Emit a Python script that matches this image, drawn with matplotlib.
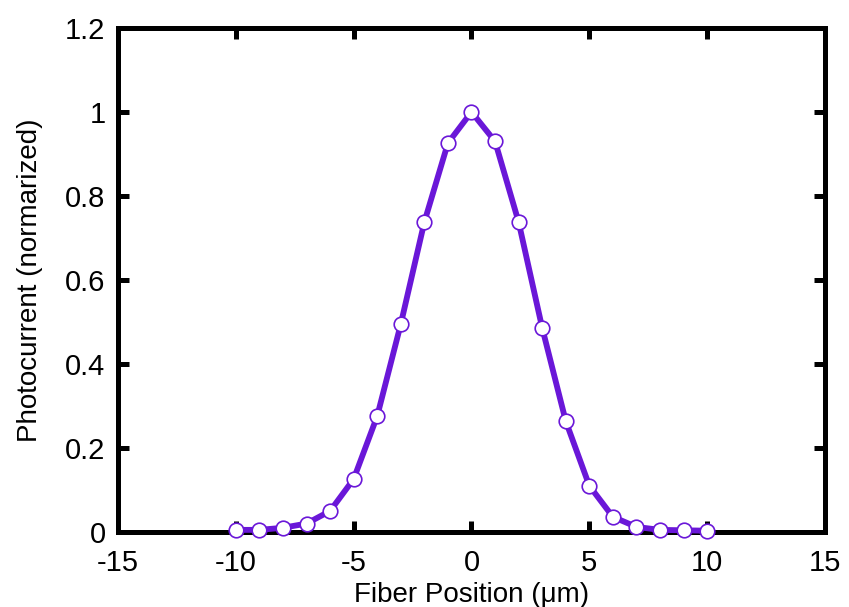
"""
Fiber alignment scan: normalized photocurrent vs fiber position.
"""
import matplotlib.pyplot as plt
import numpy as np

# data
fiber_pos = [-10, -9, -8, -7, -6, -5, -4, -3, -2, -1, 0,
             1, 2, 3, 4, 5, 6, 7, 8, 9, 10]
photocurrent = [0.005, 0.005, 0.01, 0.02, 0.05, 0.126, 0.276, 0.495, 0.738, 0.926, 1.0,
                0.93, 0.738, 0.486, 0.264, 0.11, 0.036, 0.012, 0.005, 0.004, 0.003]

x_ticks = [-15, -10, -5, 0, 5, 10, 15]
y_ticks = [0, 0.2, 0.4, 0.6, 0.8, 1, 1.2]
y_tick_labels = ['0', '0.2', '0.4', '0.6', '0.8', '1', '1.2']

plt.rcParams['font.family'] = ['Liberation Sans', 'DejaVu Sans']

fig = plt.figure(figsize=(8.49, 6.07), dpi=100)
ax = fig.add_axes([0.139, 0.1236, 0.8327, 0.8303])

line_color = '#6A17D8'
ax.plot(fiber_pos, photocurrent, color=line_color, linewidth=4.2,
        marker='o', markersize=10.5, markerfacecolor='white',
        markeredgecolor=line_color, markeredgewidth=1.2, clip_on=False, zorder=3)

ax.set_xlim(-15, 15)
ax.set_ylim(0, 1.2)
ax.set_xticks(x_ticks)
ax.set_xticklabels([str(t) for t in x_ticks])
ax.set_yticks(y_ticks)
ax.set_yticklabels(y_tick_labels)

for spine in ax.spines.values():
    spine.set_linewidth(3.6)
ax.tick_params(axis='x', pad=12)
ax.tick_params(axis='y', pad=9)
ax.tick_params(direction='in', length=8, width=3.6, labelsize=21,
               top=True, right=True)

ax.set_xlabel('Fiber Position (\u03bcm)', fontsize=20, labelpad=4)
ax.set_ylabel('Photocurrent (normarized)', fontsize=20, labelpad=16)

fig.savefig('out.png', dpi=100)
